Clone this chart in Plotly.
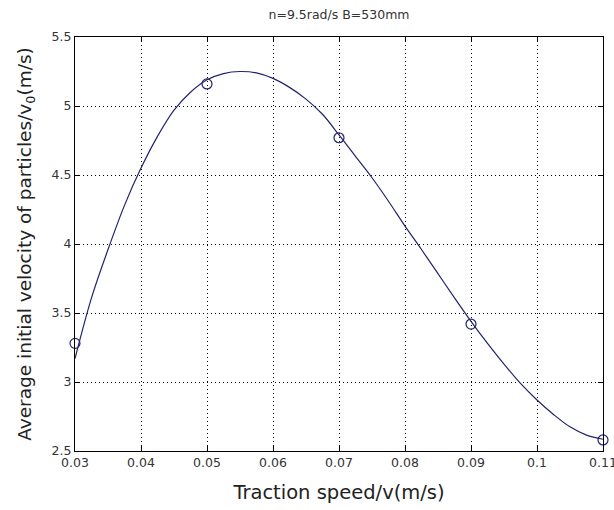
import plotly.graph_objects as go

# Measured points (markers)
speed = [0.03, 0.05, 0.07, 0.09, 0.11]
velocity = [3.28, 5.16, 4.77, 3.42, 2.58]

# Fitted curve, values
curve_x = [0.0300, 0.0325, 0.0350, 0.0375, 0.0400, 0.0425, 0.0450, 0.0475, 0.0500,
           0.0525, 0.0550, 0.0575, 0.0600, 0.0625, 0.0650, 0.0675, 0.0700, 0.0725,
           0.0750, 0.0775, 0.0800, 0.0825, 0.0850, 0.0875, 0.0900, 0.0925, 0.0950,
           0.0975, 0.1000, 0.1025, 0.1050, 0.1075, 0.1100]
curve_y = [3.17, 3.61, 3.96, 4.28, 4.55, 4.78, 4.97, 5.10, 5.19,
           5.235, 5.25, 5.24, 5.20, 5.135, 5.05, 4.94, 4.79, 4.635,
           4.48, 4.31, 4.13, 3.96, 3.785, 3.61, 3.44, 3.28, 3.13,
           2.99, 2.87, 2.765, 2.675, 2.615, 2.585]

x_ticks = [0.03, 0.04, 0.05, 0.06, 0.07, 0.08, 0.09, 0.10, 0.11]
x_tick_text = ["0.03", "0.04", "0.05", "0.06", "0.07", "0.08", "0.09", "0.1", "0.11"]
y_ticks = [2.5, 3.0, 3.5, 4.0, 4.5, 5.0, 5.5]
y_tick_text = ["2.5", "3", "3.5", "4", "4.5", "5", "5.5"]

line_color = "#22226e"
text_color = "#222222"
tick_font = dict(family="DejaVu Sans, Verdana, sans-serif", size=12.5, color="#333333")

fig = go.Figure()
fig.add_trace(go.Scatter(x=curve_x, y=curve_y, mode="lines",
                         line=dict(color=line_color, width=1.2, shape="spline", smoothing=1),
                         hoverinfo="skip", showlegend=False))
fig.add_trace(go.Scatter(x=speed, y=velocity, mode="markers",
                         marker=dict(symbol="circle-open", size=10, color=line_color,
                                     line=dict(width=1.2, color=line_color)),
                         showlegend=False, cliponaxis=False))

axis_common = dict(
    showline=True, linecolor="black", linewidth=1, mirror="allticks",
    ticks="inside", ticklen=5, tickcolor="black",
    showgrid=True, gridcolor="black", gridwidth=1, griddash="1px,3px",
    zeroline=False, ticklabeloverflow="allow", automargin=False,
    tickfont=tick_font,
)

fig.update_layout(
    width=614, height=510,
    margin=dict(l=75, r=11, t=37, b=59),
    paper_bgcolor="white", plot_bgcolor="white",
    title=dict(text="n=9.5rad/s B=530mm", x=339 / 614,
               xanchor="center", y=1 - 15 / 510, yanchor="middle",
               font=dict(family="DejaVu Sans, Verdana, sans-serif", size=12.5, color="#333333")),
    xaxis=dict(range=[0.03, 0.11], tickvals=x_ticks, ticktext=x_tick_text,
               title=dict(text="Traction speed/v(m/s)", standoff=16,
                          font=dict(family="DejaVu Sans, Verdana, sans-serif", size=19.5, color=text_color)),
               **axis_common),
    yaxis=dict(range=[2.5, 5.5], tickvals=y_ticks, ticktext=y_tick_text,
               title=dict(text="Average initial velocity of particles/v<sub>0</sub>(m/s)", standoff=15,
                          font=dict(family="DejaVu Sans, Verdana, sans-serif", size=18.5, color=text_color)),
               **axis_common),
)

fig.write_html("out.html")
